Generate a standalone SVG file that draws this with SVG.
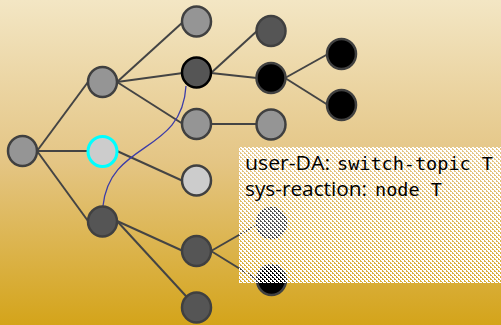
<svg xmlns="http://www.w3.org/2000/svg" width="501" height="325" viewBox="0 0 501 325">
<defs>
<linearGradient id="bg" x1="0" y1="0" x2="0" y2="1">
<stop offset="0" stop-color="#f3e6c4"/>
<stop offset="0.5" stop-color="#e4c584"/>
<stop offset="1" stop-color="#d4a41a"/>
</linearGradient>
<pattern id="dither" patternUnits="userSpaceOnUse" x="0" y="0" width="4" height="4">
<path d="M2,0h2v2h-2zM0,2h2v2h-2zM1,0h1v1h-1zM3,2h1v1h-1z" fill="#ffffff" shape-rendering="crispEdges"/>
</pattern>
<style>
.edge{stroke:#444;stroke-width:2;fill:none}
.n{stroke:#404040;stroke-width:2.5}
.gray{fill:#959595}
.dark{fill:#555555}
.light{fill:#cccccc}
.black{fill:#000000}
.sans{font-family:"Open Sans","DejaVu Sans",sans-serif;font-size:20px;fill:#000}
.mono{font-family:"DejaVu Sans Mono","Liberation Mono",monospace;font-size:18.5px;fill:#000}
</style>
</defs>
<rect x="0" y="0" width="501" height="325" fill="url(#bg)"/>
<g id="connectors">
<line class="edge" x1="37" y1="151" x2="88" y2="82"/>
<line class="edge" x1="37" y1="151" x2="88" y2="151"/>
<line class="edge" x1="37" y1="151" x2="88" y2="221"/>
<line class="edge" x1="117" y1="82" x2="183" y2="22"/>
<line class="edge" x1="117" y1="82" x2="183" y2="73"/>
<line class="edge" x1="117" y1="82" x2="183" y2="124"/>
<line class="edge" x1="117" y1="151" x2="183" y2="181"/>
<line class="edge" x1="117" y1="221" x2="183" y2="251"/>
<line class="edge" x1="117" y1="221" x2="196" y2="307"/>
<line class="edge" x1="211" y1="73" x2="257" y2="31"/>
<line class="edge" x1="211" y1="73" x2="257" y2="78"/>
<line class="edge" x1="211" y1="124" x2="257" y2="124"/>
<line class="edge" x1="285" y1="78" x2="328" y2="54"/>
<line class="edge" x1="285" y1="78" x2="328" y2="105"/>
<line class="edge" x1="211" y1="251" x2="258" y2="224"/>
<line class="edge" x1="211" y1="251" x2="258" y2="280"/>
<path d="M186,86 C182,155 110,140 103,206" fill="none" stroke="#3c3ca8" stroke-width="1.3"/>
</g>
<g id="root"><ellipse class="n gray" cx="22.5" cy="151" rx="14.5" ry="15"/></g>
<g id="a"><ellipse class="n gray" cx="102.5" cy="82" rx="14.5" ry="15"/></g>
<g id="b"><ellipse class="light" cx="102.5" cy="151.5" rx="14.5" ry="15" stroke="#00ffff" stroke-width="3"/></g>
<g id="c"><ellipse class="n dark" cx="102.5" cy="221.5" rx="14.5" ry="15"/></g>
<g id="a1"><ellipse class="n gray" cx="196.5" cy="21.5" rx="14.5" ry="15"/></g>
<g id="a2"><ellipse class="dark" cx="196.5" cy="72.5" rx="14.5" ry="15" stroke="#000" stroke-width="2.5"/></g>
<g id="a3"><ellipse class="n gray" cx="196.5" cy="124" rx="14.5" ry="15"/></g>
<g id="b1"><ellipse class="n light" cx="196.5" cy="180.5" rx="14.5" ry="15"/></g>
<g id="c1"><ellipse class="n dark" cx="196.5" cy="251" rx="14.5" ry="15"/></g>
<g id="c2"><ellipse class="n dark" cx="196.5" cy="307.5" rx="14.5" ry="15"/></g>
<g id="a21"><ellipse class="n dark" cx="271" cy="31" rx="14.5" ry="15"/></g>
<g id="a22"><ellipse class="n black" cx="271" cy="78" rx="14.5" ry="15"/></g>
<g id="a31"><ellipse class="n gray" cx="271" cy="124.5" rx="14.5" ry="15"/></g>
<g id="a221"><ellipse class="n black" cx="341.5" cy="54" rx="14.5" ry="15"/></g>
<g id="a222"><ellipse class="n black" cx="341.5" cy="105" rx="14.5" ry="15"/></g>
<g id="c11"><ellipse class="n dark" cx="271.5" cy="223" rx="14.5" ry="15"/></g>
<g id="c12"><ellipse class="n black" cx="271.5" cy="280" rx="14.5" ry="15"/></g>
<g id="label">
<rect x="239" y="147" width="262" height="136" fill="url(#dither)"/>
<text class="sans" x="245" y="170" textLength="85" lengthAdjust="spacingAndGlyphs">user-DA:</text>
<text class="mono" x="337" y="170">switch-topic T</text>
<text class="sans" x="245" y="196" textLength="122" lengthAdjust="spacingAndGlyphs">sys-reaction:</text>
<text class="mono" x="375" y="196">node T</text>
</g>
</svg>
